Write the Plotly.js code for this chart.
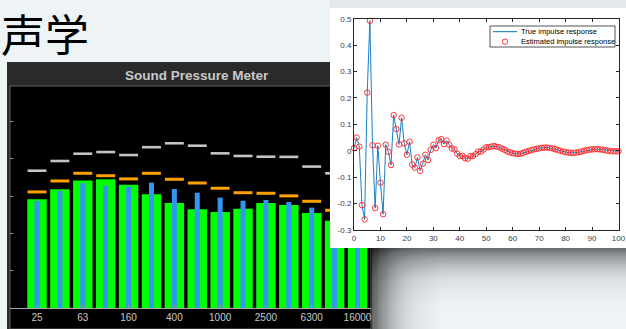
<!DOCTYPE html>
<html><head><meta charset="utf-8">
<script src="https://cdn.plot.ly/plotly-3.0.1.min.js"></script>
<style>html,body{margin:0;padding:0;background:#eef3f6;}#chart{width:626px;height:329px;}</style>
</head><body><div id="chart"></div>
<script>
// ---- Sound pressure meter (1/3-octave bands) ----
const bands = ['25','40','63','100','160','250','400','630','1000','1600','2500','4000','6300','10000','16000'];
const bandLabels = ['25','63','160','400','1000','2500','6300','16000'];
const levelGreen  = [58.3,63.6,68.3,69.0,66.0,61.0,56.3,52.9,51.5,53.2,56.3,55.2,50.9,46.8,44.0];
const levelBlue   = [57.4,62.7,66.9,65.6,65.0,67.2,63.8,61.8,59.2,57.5,57.9,56.8,53.8,50.5,48.0];
const levelOrange = [62.2,68.1,72.2,70.9,69.2,72.2,69.0,67.0,64.2,61.8,61.5,60.1,57.2,52.4,50.0];
const levelGrey   = [73.6,78.8,82.7,83.6,82.0,86.2,88.3,87.0,82.9,81.5,81.1,81.0,75.8,72.2,69.0];
const levelTicks  = [20,40,60,80,100];

// ---- Impulse response ----
const lags = [0,1,2,3,4,5,6,7,8,9,10,11,12,13,14,15,16,17,18,19,20,21,22,23,24,25,26,27,28,29,30,
  31,32,33,34,35,36,37,38,39,40,41,42,43,44,45,46,47,48,49,50,51,52,53,54,55,56,57,58,59,60,
  61,62,63,64,65,66,67,68,69,70,71,72,73,74,75,76,77,78,79,80,81,82,83,84,85,86,87,88,89,90,
  91,92,93,94,95,96,97,98,99,100];
const trueResp = [0.010,0.050,0.016,-0.206,-0.260,0.220,0.492,0.021,-0.217,0.019,-0.121,-0.240,0.023,-0.004,-0.054,
  0.135,0.082,0.024,0.125,0.028,-0.015,0.034,-0.052,-0.064,-0.025,-0.076,-0.049,-0.015,-0.035,0.003,0.023,
  0.010,0.040,0.044,0.025,0.039,0.023,0.009,0.005,-0.011,-0.020,-0.019,-0.028,-0.030,-0.020,-0.020,-0.013,-0.003,-0.003,0.005,0.013,
  0.014,0.016,0.018,0.015,0.013,0.008,0.003,-0.003,-0.006,-0.009,-0.011,-0.013,-0.011,-0.008,-0.004,-0.001,0.002,0.005,0.007,0.009,
  0.011,0.012,0.012,0.011,0.009,0.006,0.003,0.000,-0.003,-0.005,-0.007,-0.008,-0.008,-0.007,-0.005,-0.003,0.000,0.002,0.004,0.005,
  0.006,0.006,0.005,0.004,0.002,0.000,-0.001,-0.002,-0.002,-0.002];
const estResp = trueResp.slice(); // estimates coincide with the true response at this scale
const lagTicks = [0,10,20,30,40,50,60,70,80,90,100];
const respTicks = [-0.3,-0.2,-0.1,0,0.1,0.2,0.3,0.4,0.5];
const respTickText = ['-0.3','-0.2','-0.1','0','0.1','0.2','0.3','0.4','0.5'];

const W = 626, H = 329;
const px = x => x / W;
const py = y => (H - y) / H;

const traces = [
  {type:'bar', x:bands, y:levelGreen, width:0.85, marker:{color:'#00ff00', line:{width:0}}, xaxis:'x', yaxis:'y', hoverinfo:'skip'},
  {type:'bar', x:bands, y:levelBlue, width:0.22, marker:{color:'#3397f0', line:{width:0}}, xaxis:'x', yaxis:'y', hoverinfo:'skip'},
  {type:'scatter', mode:'markers', x:bands, y:levelOrange, marker:{symbol:'line-ew', size:13.5, line:{width:3, color:'#ffa200'}}, xaxis:'x', yaxis:'y', hoverinfo:'skip'},
  {type:'scatter', mode:'markers', x:bands, y:levelGrey, marker:{symbol:'line-ew', size:13.5, line:{width:2.6, color:'#c4c4c4'}}, xaxis:'x', yaxis:'y', hoverinfo:'skip'},
  {type:'scatter', x:[], y:[], xaxis:'x2', yaxis:'y2', hoverinfo:'skip'},
  {type:'scatter', mode:'lines', name:'True impulse response', x:lags, y:trueResp, line:{color:'#0072bd', width:0.9}, xaxis:'x3', yaxis:'y3'},
  {type:'scatter', mode:'markers', name:'Estimated impulse response', x:lags, y:estResp, marker:{symbol:'circle-open', size:5.5, color:'#ff2020', line:{width:0.9}}, xaxis:'x3', yaxis:'y3', cliponaxis:false}
];

const shade = (x0,x1,y0,y1,op) => ({type:'rect', xref:'paper', yref:'paper', x0:px(x0), x1:px(x1), y0:py(y1), y1:py(y0), fillcolor:'#000', opacity:op, line:{width:0}, layer:'below'});

// soft drop-shadow (decoration): layered translucent strips
const shadowShapes = [];
(function(){
  const Tv = t => 1 - 0.55*Math.exp(-t/22);
  for (let k = 1; k <= 50; k++) {
    const a = 1 - Tv(2*(k-1)) / Tv(2*k);
    shadowShapes.push(shade(371, 371 + 2*k, 248, 329, a));
  }
  const Th = s => 1 - 0.50*Math.exp(-s/18);
  for (let k = 1; k <= 40; k++) {
    const a = 1 - Th(2*(k-1)) / Th(2*k);
    shadowShapes.push(shade(371, 626, 248, 248 + 2*k, a));
  }
})();

const shapes = [
  {type:'rect', xref:'paper', yref:'paper', x0:px(330), x1:1, y0:py(8), y1:1, fillcolor:'#e4e8eb', line:{width:0}, layer:'below'},
  {type:'rect', xref:'paper', yref:'paper', x0:px(7), x1:px(371), y0:0, y1:py(62), fillcolor:'#2a2a2a', line:{width:0}, layer:'below'},
  {type:'rect', xref:'paper', yref:'paper', x0:px(10), x1:px(371), y0:0, y1:py(86), fillcolor:'#000', line:{width:1, color:'#5e5e5e'}, layer:'below'},
  ...shadowShapes,
  {type:'rect', xref:'x2', yref:'y2', x0:0, x1:1, y0:0, y1:1, fillcolor:'#ffffff', line:{width:0}, layer:'below'},
  {type:'rect', xref:'paper', yref:'paper', x0:px(490), x1:px(615), y0:py(47), y1:py(26), fillcolor:'#ffffff', line:{width:0.8, color:'#262626'}, layer:'above'},
  {type:'line', xref:'paper', yref:'paper', x0:px(493), x1:px(517), y0:py(31.7), y1:py(31.7), line:{width:1, color:'#0072bd'}, layer:'above'},
  {type:'circle', xref:'paper', yref:'paper', x0:px(502.3), x1:px(507.7), y0:py(44.4), y1:py(39), line:{width:0.9, color:'#ff2020'}, layer:'above'}
];

const annotations = [
  {xref:'paper', yref:'paper', x:px(0), y:py(0), xanchor:'left', yanchor:'top', showarrow:false, text:'声学', borderpad:0,
   font:{family:'Noto Sans CJK SC', size:44, color:'#000'}},
  {xref:'paper', yref:'paper', x:px(197), y:py(75.5), xanchor:'center', yanchor:'middle', showarrow:false, text:'<b>Sound Pressure Meter</b>',
   font:{family:'Liberation Sans, Arial, sans-serif', size:13.5, color:'#c8c8c8'}},
  {xref:'paper', yref:'paper', x:px(519), y:py(31.7), xanchor:'left', yanchor:'middle', showarrow:false, text:'True impulse response',
   font:{family:'Liberation Sans, Arial, sans-serif', size:7.5, color:'#000'}},
  {xref:'paper', yref:'paper', x:px(519), y:py(41.7), xanchor:'left', yanchor:'middle', showarrow:false, text:'Estimated impulse response',
   font:{family:'Liberation Sans, Arial, sans-serif', size:7.5, color:'#000'}}
];

const layout = {
  width:W, height:H, margin:{l:0,r:0,t:0,b:0,pad:0},
  paper_bgcolor:'#eef3f6', plot_bgcolor:'rgba(0,0,0,0)',
  showlegend:false, barmode:'overlay', hovermode:false,
  xaxis:{domain:[px(10),px(371)], type:'category', range:[-1.18,14.59], tickmode:'array', tickvals:bandLabels, ticktext:bandLabels,
    ticks:'inside', ticklen:3, tickcolor:'#9a9a9a', showline:true, linecolor:'#a8a8a8', linewidth:1, showgrid:false, zeroline:false,
    tickfont:{family:'Liberation Sans, Arial, sans-serif', size:10, color:'#c8c8c8'}, anchor:'y', fixedrange:true},
  yaxis:{domain:[py(308),py(86)], range:[0,119], tickmode:'array', tickvals:levelTicks, ticks:'inside', ticklen:3, tickcolor:'#9a9a9a',
    showticklabels:false, showgrid:false, zeroline:false, showline:false, anchor:'x', fixedrange:true},
  xaxis2:{domain:[px(330),1], range:[0,1], visible:false, anchor:'y2', fixedrange:true},
  yaxis2:{domain:[py(248),py(8)], range:[0,1], visible:false, anchor:'x2', fixedrange:true},
  xaxis3:{domain:[px(354),px(618.5)], range:[0,100], tickmode:'array', tickvals:lagTicks, ticks:'inside', ticklen:3, tickcolor:'#262626',
    mirror:'ticks', showline:true, linecolor:'#262626', linewidth:1, showgrid:false, zeroline:false,
    tickfont:{family:'Liberation Sans, Arial, sans-serif', size:8, color:'#404040'}, anchor:'y3', fixedrange:true},
  yaxis3:{domain:[py(230),py(18.7)], range:[-0.3,0.5], tickmode:'array', tickvals:respTicks, ticktext:respTickText, ticks:'inside', ticklen:3,
    tickcolor:'#262626', mirror:'ticks', showline:true, linecolor:'#262626', linewidth:1, showgrid:false, zeroline:false,
    tickfont:{family:'Liberation Sans, Arial, sans-serif', size:8, color:'#404040'}, anchor:'x3', fixedrange:true},
  shapes:shapes, annotations:annotations
};

Plotly.newPlot('chart', traces, layout, {staticPlot:true, displayModeBar:false});
</script>
</body></html>
